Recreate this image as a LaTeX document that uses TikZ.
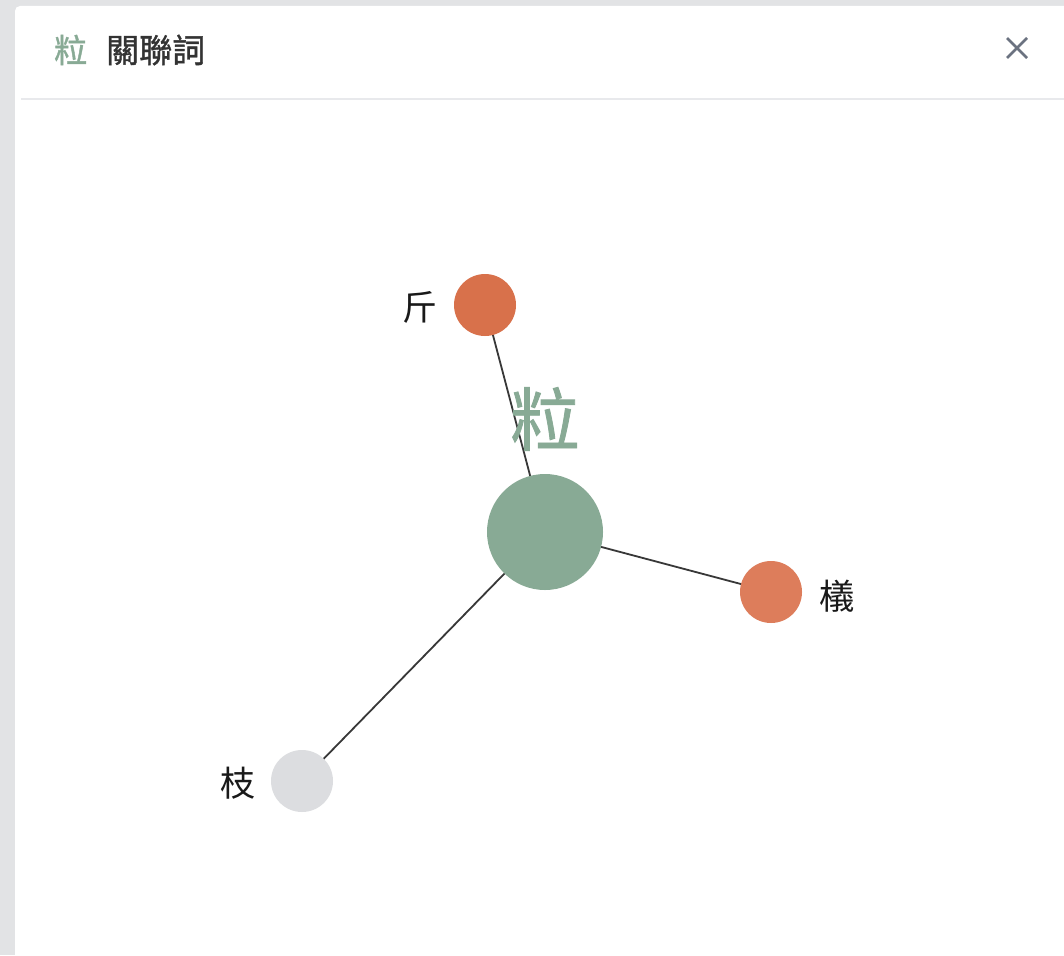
\documentclass[tikz,border=0pt]{standalone}
\usepackage{fontspec}
\setmainfont{Noto Sans CJK TC}
\newfontfamily\cjkmed[FakeBold=1.2]{Noto Sans CJK TC}
\begin{document}
\begin{tikzpicture}[x=1pt,y=-1pt,
  edge/.style={draw=black!78,line width=1.8pt},
  dot/.style={circle,inner sep=0pt,minimum size=62pt},
  lbl/.style={font=\fontsize{35}{37}\selectfont,text=black!90,inner sep=0pt}]
\definecolor{bgray}{HTML}{E2E3E5}
\definecolor{sage}{HTML}{88AA95}
\definecolor{orangeA}{HTML}{D8714B}
\definecolor{orangeB}{HTML}{DD7D5B}
\definecolor{lgray}{HTML}{DCDDE0}
\definecolor{divc}{HTML}{E8E9EC}
\definecolor{xgray}{HTML}{6B7280}
\definecolor{hdark}{HTML}{333333}
\fill[bgray] (0,0) rectangle (1064,955);
\useasboundingbox (0,0) rectangle (1064,955);
\fill[white,rounded corners=5pt] (15,6) rectangle (1090,980);
\draw[divc,line width=2pt] (21,99) -- (1064,99);
% header
\node[anchor=west,inner sep=0pt,text=sage,font=\fontsize{33}{35}\selectfont\cjkmed] (ht) at (54,50) {粒};
\node[anchor=west,inner sep=0pt,text=hdark,font=\fontsize{33}{35}\selectfont\cjkmed] (hw) at (106,50) {關聯詞};
\coordinate (xa) at (1007,38); \coordinate (xb) at (1027,58);
\coordinate (xc) at (1027,38); \coordinate (xd) at (1007,58);
\draw[xgray,line width=2.6pt] (xa) -- (xb);
\draw[xgray,line width=2.6pt] (xc) -- (xd);
% nodes
\coordinate (c) at (545,532);
\coordinate (j) at (485,305);
\coordinate (y) at (771,592);
\coordinate (z) at (302,781);
\draw[edge] (c) -- (j);
\draw[edge] (c) -- (y);
\draw[edge] (c) -- (z);
\node[dot,fill=sage,minimum size=116pt] (nc) at (c) {};
\node[dot,fill=orangeA] (nj) at (j) {};
\node[dot,fill=orangeB] (ny) at (y) {};
\node[dot,fill=lgray] (nz) at (z) {};
\node[inner sep=0pt,text=sage,font=\fontsize{69}{71}\selectfont\cjkmed] (lc) at (545,419) {粒};
\node[lbl] (lj) at (420,307) {斤};
\node[lbl] (ly) at (837,596) {檥};
\node[lbl] (lz) at (238,783) {枝};
\end{tikzpicture}
\end{document}
